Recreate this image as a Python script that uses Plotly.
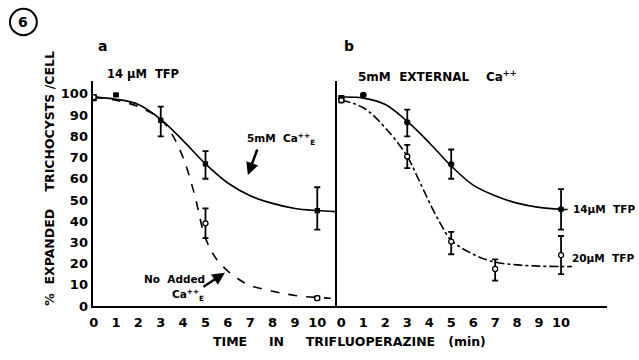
import plotly.graph_objects as go

# ---------------- data ----------------
# Panel a : 14 uM TFP
a_ca_t = [0, 1, 3, 5, 10]
a_ca_y = [98, 99.5, 87.5, 67, 45]
a_ca_up = [1, 0.5, 6.5, 6, 11]
a_ca_dn = [1, 0.5, 7.5, 7, 9]

a_no_t = [0, 5, 10]
a_no_y = [98.5, 39, 3.7]
a_no_up = [1, 7, 0.8]
a_no_dn = [1, 7, 0.8]

a_ca_curve_t = [0, 1, 2, 3, 4, 5, 6, 7, 8, 9, 10, 10.8]
a_ca_curve_y = [98.5, 97.5, 95, 88, 78, 67, 58, 52, 48.4, 46, 45, 44.5]

a_no_curve_t = [0, 1, 2, 3, 3.5, 4, 4.5, 5, 5.5, 6, 6.5, 7, 8, 9, 10, 10.6]
a_no_curve_y = [98.5, 97, 94, 88, 81, 70, 53, 32, 22, 16.5, 12.5, 9.7, 7, 5, 4, 3.7]

# Panel b : 5 mM external Ca++
b_14_t = [0, 1, 3, 5, 10]
b_14_y = [98, 99.5, 86.6, 66.8, 45.6]
b_14_up = [1, 0.5, 6, 7, 9.5]
b_14_dn = [1, 0.5, 6.6, 6.8, 9.6]

b_20_t = [0, 3, 5, 7, 10]
b_20_y = [97, 70.5, 30.4, 17.5, 24]
b_20_up = [1, 5.5, 4.6, 4.5, 9]
b_20_dn = [1, 5.5, 6, 5.5, 9]

b_14_curve_t = [0, 1, 2, 3, 4, 5, 6, 7, 8, 9, 10, 10.3]
b_14_curve_y = [98.5, 98, 95, 87, 77, 66, 57, 52, 48.5, 46.5, 45.6, 45.5]

b_20_curve_t = [0, 1, 2, 3, 3.5, 4, 4.5, 5, 6, 7, 8, 9, 10, 10.5]
b_20_curve_y = [97, 93.5, 84, 70.5, 60, 49, 39, 31, 24.4, 20.7, 19.4, 18.8, 18.6, 18.6]

x_ticks = [0, 1, 2, 3, 4, 5, 6, 7, 8, 9, 10]
x_tick_text = ["0", "1", "2", "3", "4", "5", "6", "7", "8", "9", "10"]
y_ticks = [0, 10, 20, 30, 40, 50, 60, 70, 80, 90, 100]
y_tick_text = ["0", "10", "20", "30", "40", "50", "60", "70", "80", "90", "100"]

# ---------------- figure ----------------
FONT = "DejaVu Sans"
INK = "black"

fig = go.Figure()

def curve(t, y, dash, xa, ya):
    fig.add_trace(go.Scatter(x=t, y=y, mode="lines", xaxis=xa, yaxis=ya,
                             line=dict(color=INK, width=1.6, dash=dash, shape="spline"),
                             hoverinfo="skip", showlegend=False))

def points(t, y, up, dn, filled, xa, ya):
    fig.add_trace(go.Scatter(x=t, y=y, mode="markers", xaxis=xa, yaxis=ya,
                             marker=dict(symbol="square" if filled == "sq" else "circle",
                                         size=4 if filled == "sq" else 5,
                                         color=INK if filled in ("sq", "dot") else "white",
                                         line=dict(color=INK, width=1.3)),
                             error_y=dict(type="data", array=up, arrayminus=dn, color=INK,
                                          thickness=1.8, width=3),
                             showlegend=False))

curve(a_ca_curve_t, a_ca_curve_y, "solid", "x", "y")
curve(a_no_curve_t, a_no_curve_y, "dash", "x", "y")
points(a_ca_t, a_ca_y, a_ca_up, a_ca_dn, "sq", "x", "y")
points(a_no_t, a_no_y, a_no_up, a_no_dn, "open", "x", "y")

curve(b_14_curve_t, b_14_curve_y, "solid", "x2", "y2")
curve(b_20_curve_t, b_20_curve_y, "dashdot", "x2", "y2")
points(b_14_t, b_14_y, b_14_up, b_14_dn, "dot", "x2", "y2")
points(b_20_t, b_20_y, b_20_up, b_20_dn, "open", "x2", "y2")

axis_common = dict(showgrid=False, zeroline=False, showline=True, linecolor=INK,
                   linewidth=2, ticks="", tickfont=dict(family=FONT, size=13, color=INK),
                   fixedrange=True)

bold = lambda lst: ["<b>%s</b>" % s for s in lst]

fig.update_layout(
    width=639, height=360,
    margin=dict(l=0, r=0, t=0, b=0),
    paper_bgcolor="white", plot_bgcolor="white",
    font=dict(family=FONT, color=INK),
    xaxis=dict(domain=[0.1408, 0.5258], range=[-0.05, 10.9], anchor="y",
               tickvals=x_ticks, ticktext=bold(x_tick_text), ticklabelstandoff=3, **axis_common),
    yaxis=dict(domain=[0.1306, 0.7694], range=[0, 106], anchor="x",
               tickvals=y_ticks, ticktext=bold(y_tick_text), **axis_common),
    xaxis2=dict(domain=[0.5258, 0.950], range=[-0.18, 12.1], anchor="y2",
                tickvals=x_ticks, ticktext=bold(x_tick_text), ticklabelstandoff=3, **axis_common),
    yaxis2=dict(domain=[0.1306, 0.7694], range=[0, 106], anchor="x2",
                showticklabels=False, **axis_common),
)

def txt(x, y, s, size=11, xanchor="left", textangle=0, bold=True):
    fig.add_annotation(x=x, y=y, xref="paper", yref="paper", text=("<b>%s</b>" % s) if bold else s,
                       showarrow=False, xanchor=xanchor, yanchor="middle", textangle=textangle,
                       font=dict(family=FONT, size=size, color=INK))

W, H = 639.0, 360.0
def px(xp, yp):
    return xp / W, 1 - yp / H

# circled figure number
fig.add_shape(type="circle", xref="paper", yref="paper",
              x0=7 / W, x1=34 / W, y0=1 - 36 / H, y1=1 - 9 / H,
              line=dict(color=INK, width=2))
txt(*px(20.5, 22.5), "6", size=14, xanchor="center")

txt(*px(93, 47), "a", size=14)
txt(*px(102, 76), "14 µM  TFP", size=11.5)
txt(*px(341, 47), "b", size=14)
txt(*px(355, 78), "5mM  EXTERNAL    Ca<sup>++</sup>", size=12)

txt(*px(47, 182), "%  EXPANDED    TRICHOCYSTS /CELL", size=12.5, xanchor="center", textangle=-90)
txt(*px(348, 349), "TIME     IN     TRIFLUOPERAZINE   (min)", size=12.5, xanchor="center")

txt(*px(243, 142), "5mM  Ca<sup>++</sup><sub>E</sub>", size=10.5)
txt(*px(140, 285), "No  Added", size=10.5)
txt(*px(168, 302), "Ca<sup>++</sup><sub>E</sub>", size=10.5)
txt(*px(571, 214), "14µM  TFP", size=10.5)
txt(*px(570, 264), "20µM  TFP", size=10.5)

# arrows (tail offsets in pixels)
fig.add_annotation(x=246 / W, y=1 - 179 / H, ax=10, ay=-27,
                   xref="paper", yref="paper", axref="pixel", ayref="pixel",
                   text="", showarrow=True, arrowhead=2, arrowsize=1, arrowwidth=2.5,
                   arrowcolor=INK)
fig.add_annotation(x=223 / W, y=1 - 279 / H, ax=-23, ay=15,
                   xref="paper", yref="paper", axref="pixel", ayref="pixel",
                   text="", showarrow=True, arrowhead=2, arrowsize=1, arrowwidth=2.5,
                   arrowcolor=INK)

fig.write_html("out.html", config={"displayModeBar": False})
